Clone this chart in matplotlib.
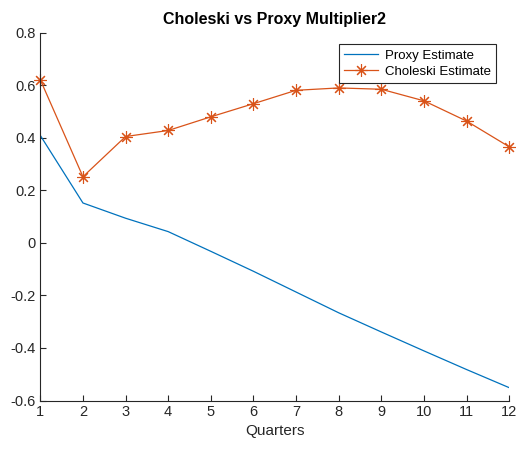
import matplotlib
matplotlib.use("Agg")
import matplotlib.pyplot as plt

plt.rcParams['font.family'] = ['Liberation Sans', 'DejaVu Sans']

quarters = [1, 2, 3, 4, 5, 6, 7, 8, 9, 10, 11, 12]
proxy = [0.409, 0.152, 0.094, 0.043, -0.032, -0.108, -0.187, -0.266, -0.339, -0.411, -0.482, -0.551]
choleski = [0.621, 0.252, 0.405, 0.428, 0.480, 0.530, 0.581, 0.590, 0.585, 0.541, 0.464, 0.366]
yticks = [-0.6, -0.4, -0.2, 0, 0.2, 0.4, 0.6, 0.8]
ylabels = ['-0.6', '-0.4', '-0.2', '0', '0.2', '0.4', '0.6', '0.8']

fig = plt.figure(figsize=(5.19, 4.49), dpi=100)
ax = fig.add_axes([0.0777, 0.108, 0.9033, 0.819])

ax.plot(quarters, proxy, color='#0072BD', lw=0.9, label='Proxy Estimate')
# MATLAB-style asterisk marker (+ and x combined)
ax.plot(quarters, choleski, color='#D95319', lw=0.9, marker=(8, 2, 0), markersize=9,
        markeredgewidth=0.8, label='Choleski Estimate', clip_on=False)

ax.set_xlim(1, 12)
ax.set_ylim(-0.6, 0.8)
ax.set_xticks(quarters)
ax.set_yticks(yticks)
ax.set_yticklabels(ylabels)
ax.spines['top'].set_visible(False)
ax.spines['right'].set_visible(False)
for s in ['left', 'bottom']:
    ax.spines[s].set_color('#262626')
    ax.spines[s].set_linewidth(0.8)
ax.tick_params(direction='in', length=4, width=0.8, colors='#262626', labelsize=10.5)
ax.set_xlabel('Quarters', fontsize=11, color='#262626', labelpad=3)
ax.set_title('Choleski vs Proxy Multiplier2', fontsize=11.5, fontweight='bold', pad=6)

leg = ax.legend(loc='upper right', bbox_to_anchor=(0.972, 0.969), fontsize=9.5,
                frameon=True, fancybox=False, edgecolor='#262626', framealpha=1,
                handlelength=2.6, handletextpad=0.5, borderpad=0.4,
                labelspacing=0.3, borderaxespad=0)
leg.get_frame().set_linewidth(0.8)

fig.savefig('out.png', dpi=100)
